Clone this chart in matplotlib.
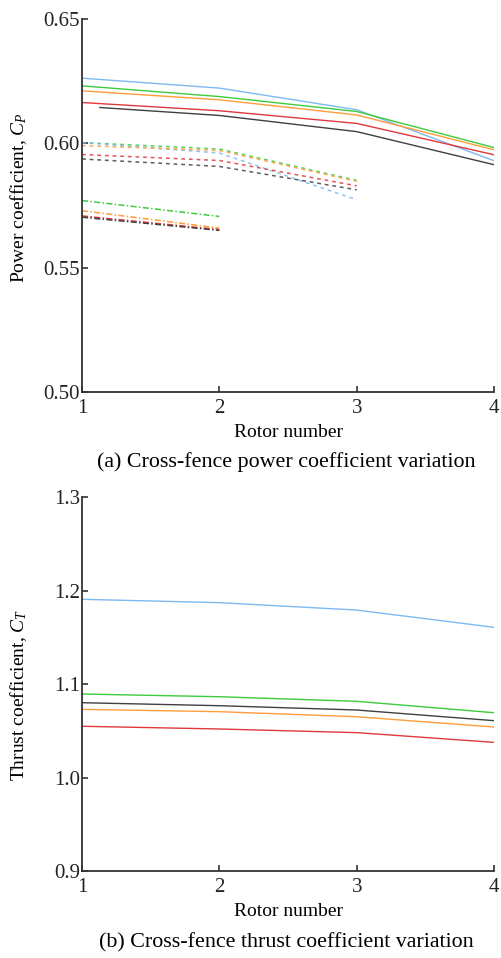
import matplotlib
matplotlib.use('Agg')
import matplotlib.pyplot as plt

plt.rcParams['font.family'] = ['Liberation Serif', 'DejaVu Serif']
plt.rcParams['mathtext.fontset'] = 'custom'
plt.rcParams['mathtext.rm'] = 'Liberation Serif'
plt.rcParams['mathtext.it'] = 'Liberation Serif:italic'

rotor = [1, 2, 3, 4]
colours = {'blue': '#7db9f2', 'green': '#3ccc3c', 'orange': '#ff9d3c',
           'red': '#e0383c', 'black': '#404040'}

# (a) power coefficient, solid lines: 4 rotors
cp_solid = {
    'blue':   [0.6262, 0.6222, 0.6135, 0.5930],
    'green':  [0.6231, 0.6188, 0.6128, 0.5983],
    'orange': [0.6211, 0.6175, 0.6114, 0.5974],
    'red':    [0.6164, 0.6131, 0.6080, 0.5954],
}
cp_black_x = [1.13, 2, 3, 4]
cp_black = [0.6144, 0.6112, 0.6047, 0.5914]

# dashed lines: 3 rotors
cp_dash = {
    'green':  [0.6003, 0.5977, 0.5851],
    'blue':   [0.6003, 0.5961, 0.5773],
    'orange': [0.5991, 0.5971, 0.5847],
    'red':    [0.5955, 0.5931, 0.5829],
    'black':  [0.5937, 0.5907, 0.5813],
}

# dash-dot lines: 2 rotors
cp_dashdot = {
    'green':  [0.5770, 0.5706],
    'orange': [0.5729, 0.5659],
    'red':    [0.5708, 0.5653],
    'black':  [0.5703, 0.5650],
}

# (b) thrust coefficient
ct = {
    'blue':   [1.1906, 1.1870, 1.1791, 1.1606],
    'green':  [1.0893, 1.0864, 1.0815, 1.0693],
    'black':  [1.0800, 1.0768, 1.0722, 1.0608],
    'orange': [1.0729, 1.0704, 1.0650, 1.0540],
    'red':    [1.0548, 1.0519, 1.0480, 1.0376],
}

fig = plt.figure(figsize=(5.01, 9.58), dpi=100)
ax1 = fig.add_axes([0.1637, 0.5908, 0.8224, 0.3894])
ax2 = fig.add_axes([0.1637, 0.0908, 0.8224, 0.3904])

for name, vals in cp_solid.items():
    ax1.plot(rotor, vals, color=colours[name], lw=1.0)
ax1.plot(cp_black_x, cp_black, color=colours['black'], lw=1.0)
for name, vals in cp_dash.items():
    ax1.plot(rotor[:3], vals, color=colours[name], lw=1.1, ls=(0, (2.5, 2.5)), alpha=0.85)
for name, vals in cp_dashdot.items():
    ax1.plot(rotor[:2], vals, color=colours[name], lw=1.1, ls=(0, (4, 1.5, 1, 1.5)))

for name, vals in ct.items():
    ax2.plot(rotor, vals, color=colours[name], lw=1.0)

for ax in (ax1, ax2):
    ax.set_xlim(1, 4)
    ax.set_xticks(rotor)
    ax.spines['top'].set_visible(False)
    ax.spines['right'].set_visible(False)
    for s in ('left', 'bottom'):
        ax.spines[s].set_linewidth(1.3)
        ax.spines[s].set_color('#333333')
    ax.tick_params(direction='in', length=4, width=1.1, labelsize=15, colors='#222222')
    ax.tick_params(axis='y', pad=1.5)
    ax.tick_params(axis='x', pad=5)
    ax.set_xlabel('Rotor number', fontsize=14, labelpad=4)

ax1.set_ylim(0.50, 0.65)
ax1.set_yticks([0.50, 0.55, 0.60, 0.65])
ax1.set_yticklabels(['0.50', '0.55', '0.60', '0.65'])
ax1.set_ylabel('Power coefficient, $C_P$', fontsize=14)
ax1.yaxis.set_label_coords(-0.128, 0.52)

ax2.set_ylim(0.9, 1.3)
ax2.set_yticks([0.9, 1.0, 1.1, 1.2, 1.3])
ax2.set_yticklabels(['0.9', '1.0', '1.1', '1.2', '1.3'])
ax2.set_ylabel('Thrust coefficient, $C_T$', fontsize=14)
ax2.yaxis.set_label_coords(-0.128, 0.472)

fig.text(0.571, 1 - 462 / 958, '(a) Cross-fence power coefficient variation',
         ha='center', va='center', fontsize=15.8)
fig.text(0.571, 1 - 943 / 958, '(b) Cross-fence thrust coefficient variation',
         ha='center', va='center', fontsize=15.8)

fig.savefig('out.png', dpi=100)
